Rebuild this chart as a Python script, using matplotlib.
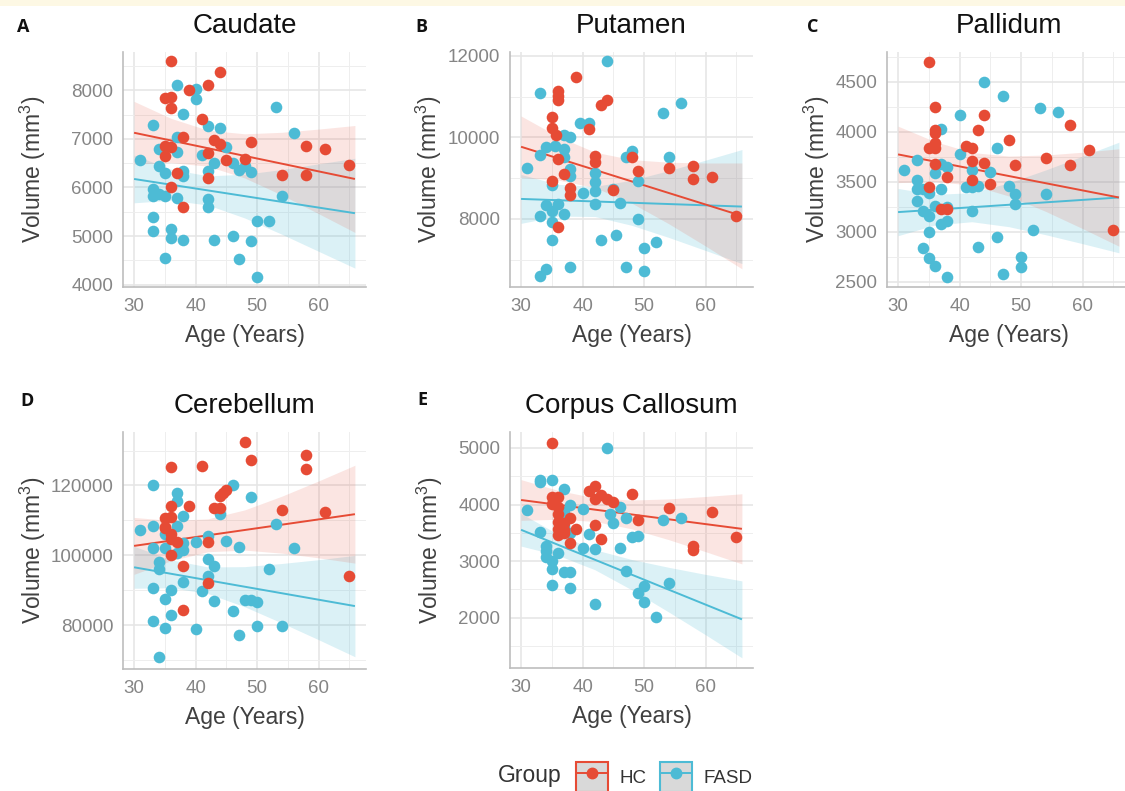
import numpy as np
import matplotlib
matplotlib.use("Agg")
import matplotlib.pyplot as plt
from matplotlib.patches import Patch, Rectangle
from matplotlib.lines import Line2D
from matplotlib.legend_handler import HandlerTuple
from matplotlib.ticker import MultipleLocator

plt.rcParams['font.family'] = ['Liberation Sans', 'DejaVu Sans']
plt.rcParams['mathtext.fontset'] = 'custom'
plt.rcParams['mathtext.rm'] = 'Liberation Sans'
plt.rcParams['mathtext.it'] = 'Liberation Sans:italic'

HC_COLOR = '#E64B35'
FASD_COLOR = '#4DBBD5'

# ---- points (age in years, volume in mm^3) ----
caudate_hc_age = [36, 44, 42, 39, 35, 36, 36, 41, 38, 43, 44, 49, 58, 61, 35, 36, 35, 42, 45, 48,
                  65, 37, 54, 58, 42, 36, 38]
caudate_hc_vol = [8595, 8375, 8115, 8010, 7845, 7855, 7625, 7410, 7040, 6975, 6890, 6925, 6850, 6785,
                  6860, 6840, 6655, 6700, 6555, 6580, 6460, 6295, 6250, 6250, 6200, 6015, 5600]
caudate_fasd_age = [37, 40, 40, 38, 53, 33, 42, 44, 56, 37, 34, 37, 41, 45, 31, 34, 35, 43, 46, 47,
                    48, 49, 38, 38, 42, 33, 33, 34, 35, 37, 42, 42, 54, 33, 50, 52, 33, 36, 36, 38,
                    43, 46, 49, 35, 47, 50]
caudate_fasd_vol = [8115, 8015, 7820, 7510, 7660, 7290, 7260, 7215, 7125, 7045, 6795, 6735, 6660, 6830,
                    6570, 6450, 6290, 6495, 6510, 6360, 6450, 6310, 6340, 6235, 6330, 5975, 5825, 5860,
                    5825, 5790, 5755, 5605, 5825, 5400, 5300, 5300, 5110, 5140, 4965, 4925, 4925, 5005,
                    4905, 4555, 4525, 4155]

putamen_hc_age = [39, 36, 36, 36, 44, 43, 35, 35, 35.6, 41, 36, 42, 42, 37, 35, 38, 38, 36, 45, 48,
                  49, 54, 58, 58, 61, 65]
putamen_hc_vol = [11490, 11145, 11020, 10915, 10930, 10785, 10490, 10240, 10060, 10195, 9470, 9550,
                  9390, 9110, 8940, 8765, 8590, 7790, 8710, 9510, 9175, 9240, 9305, 8980, 9035, 8075]
putamen_fasd_age = [44, 33, 56, 53, 39.5, 41, 34, 33, 37, 38, 35.5, 37, 37, 31, 38, 38, 42, 42, 42, 47,
                    48, 54, 49, 35, 40, 45, 34, 36, 35, 37, 33, 35, 42, 46, 49, 35, 43, 45.5, 50, 52,
                    33, 34, 38, 47, 50]
putamen_fasd_vol = [11870, 11095, 10835, 10605, 10345, 10345, 9770, 9565, 10055, 10015, 9800, 9715,
                    9525, 9240, 9215, 9060, 9135, 8915, 8695, 9525, 9675, 9525, 8940, 8835, 8645, 8745,
                    8345, 8365, 8200, 8120, 8080, 7935, 8365, 8400, 8000, 7485, 7485, 7610, 7280, 7420,
                    6590, 6775, 6815, 6815, 6725]

pallidum_hc_age = [35, 36, 36, 36, 36, 35, 36, 36, 35, 38, 37, 38, 41, 42, 42, 42, 44, 44, 43, 48,
                   49, 45, 54, 58, 58, 61, 65]
pallidum_hc_vol = [4700, 4250, 4020, 3990, 3890, 3840, 3840, 3680, 3455, 3555, 3235, 3235, 3860, 3845,
                   3710, 3520, 3690, 4175, 4025, 3920, 3670, 3485, 3745, 4075, 3670, 3825, 3020]
pallidum_fasd_age = [44, 47, 53, 56, 40, 37, 46, 40, 31, 33, 36, 37, 38, 42, 45, 33, 33, 34, 35, 37,
                     41, 42, 43, 48, 49, 54, 49, 33, 36, 38, 34, 35, 42, 38, 37, 35, 52, 34, 43, 46,
                     35, 36, 38, 47, 50, 50]
pallidum_fasd_vol = [4505, 4365, 4245, 4200, 4175, 4035, 3845, 3780, 3625, 3725, 3595, 3685, 3655, 3620,
                     3605, 3525, 3435, 3435, 3390, 3435, 3455, 3455, 3465, 3465, 3380, 3380, 3280, 3310,
                     3265, 3255, 3210, 3160, 3210, 3110, 3080, 3005, 3025, 2840, 2850, 2955, 2740, 2665,
                     2550, 2585, 2755, 2655]

cerebellum_hc_age = [48, 58, 58, 49, 36, 41, 45, 44.5, 44, 39, 36, 43, 44, 54, 61, 35, 36, 35, 35, 36,
                     36, 37, 36, 38, 42, 42, 38, 65]
cerebellum_hc_vol = [132500, 128800, 124800, 127300, 125350, 125550, 118650, 117900, 116950, 114250,
                     114100, 113600, 113600, 112950, 112350, 110750, 111000, 108200, 107700, 106000,
                     104750, 103800, 100250, 97100, 103900, 92100, 84500, 94000]
cerebellum_fasd_age = [33, 37, 37, 46, 49, 38, 44, 53, 31, 33, 37, 35, 42, 45, 47, 56, 33, 35, 38, 38,
                       37, 40, 34, 34, 42, 43, 52, 42, 38, 33, 36, 41, 35, 43, 48, 49, 50, 46, 36, 33,
                       35, 40, 50, 54, 47, 34]
cerebellum_fasd_vol = [120000, 117900, 115500, 120200, 116650, 111200, 111700, 109100, 107400, 108350,
                       108350, 106250, 105500, 104050, 102450, 102150, 102150, 102150, 103600, 101500,
                       100700, 103850, 98050, 96150, 98900, 96900, 96250, 94200, 92300, 90700,
                       90000, 89950, 87650, 86850, 87350, 87350, 86600, 84000, 83050, 81150,
                       79250, 78950, 79900, 79900, 77150, 70850]

callosum_hc_age = [35, 35, 36, 35, 36, 36, 36, 37, 36, 37, 36, 37, 38, 39, 38, 41, 42, 42, 43, 44,
                   45, 42, 43, 48, 49, 54, 61, 58, 58, 65]
callosum_hc_vol = [5095, 4125, 4125, 4005, 3960, 3840, 3695, 3665, 3575, 3545, 3460, 3490, 3755, 3575,
                   3325, 4235, 4325, 4105, 4165, 4105, 4045, 3645, 3390, 4180, 3735, 3940, 3865, 3270,
                   3195, 3430]
callosum_fasd_age = [44, 33, 33, 35, 37, 31, 38, 40, 37, 44.5, 46, 47, 45, 37, 38, 41, 33, 53, 56, 48,
                     49, 40, 42, 46, 34, 34, 34, 35, 36, 35, 37, 38, 47, 35, 38, 50, 49, 54, 50, 42, 52]
callosum_fasd_vol = [5000, 4430, 4390, 4430, 4270, 3900, 3990, 3920, 3860, 3840, 3960, 3765, 3665, 3625,
                     3490, 3475, 3520, 3725, 3765, 3430, 3440, 3235, 3205, 3235, 3270, 3180, 3075, 3000,
                     3135, 2855, 2800, 2800, 2830, 2575, 2530, 2565, 2430, 2605, 2270, 2240, 2020]

# ---- fitted lines (value at the two ends) and 95% band half-widths ----
fit_ends = [30, 65.9]
band_ages = [30, 36, 42, 48, 54, 60, 65.9]

caudate_hc_fit = [7125, 6174]
caudate_hc_hw = [645, 455, 370, 455, 645, 870, 1100]
caudate_fasd_fit = [6174, 5470]
caudate_fasd_hw = [490, 320, 300, 450, 665, 900, 1130]

putamen_hc_fit = [9771, 8073]
putamen_hc_hw = [755, 535, 435, 535, 755, 1020, 1300]
putamen_fasd_fit = [8490, 8302]
putamen_fasd_hw = [600, 390, 370, 555, 820, 1110, 1400]

pallidum_hc_fit = [3776, 3345]
pallidum_hc_hw = [282, 200, 163, 200, 282, 382, 487]
pallidum_fasd_fit = [3199, 3345]
pallidum_fasd_hw = [236, 153, 145, 219, 324, 438, 553]

cerebellum_hc_fit = [102720, 111790]
cerebellum_hc_hw = [8140, 5760, 4700, 5760, 8140, 11000, 14000]
cerebellum_fasd_fit = [96600, 85500]
cerebellum_fasd_hw = [6000, 4000, 3800, 5750, 8500, 11450, 14500]

callosum_hc_fit = [4080, 3570]
callosum_hc_hw = [360, 255, 208, 255, 360, 488, 620]
callosum_fasd_fit = [3553, 1970]
callosum_fasd_hw = [288, 187, 177, 268, 395, 534, 680]

W, H = 1125, 791
XLIM = (28.2, 67.7)

panels = [
    dict(letter='A', lpos=(17, 32), title='Caudate', box=(123, 52, 366, 287), ylim=(3952, 8786), major=1000,
         hc=(caudate_hc_age, caudate_hc_vol, caudate_hc_fit, caudate_hc_hw),
         fasd=(caudate_fasd_age, caudate_fasd_vol, caudate_fasd_fit, caudate_fasd_hw), ylab_x=-0.309),
    dict(letter='B', lpos=(415, 32), title='Putamen', box=(510, 52, 753, 287), ylim=(6327, 12098), major=2000,
         hc=(putamen_hc_age, putamen_hc_vol, putamen_hc_fit, putamen_hc_hw),
         fasd=(putamen_fasd_age, putamen_fasd_vol, putamen_fasd_fit, putamen_fasd_hw), ylab_x=-0.27),
    dict(letter='C', lpos=(807, 32), title='Pallidum', box=(887, 52, 1130, 287), ylim=(2450, 4800), major=500,
         hc=(pallidum_hc_age, pallidum_hc_vol, pallidum_hc_fit, pallidum_hc_hw),
         fasd=(pallidum_fasd_age, pallidum_fasd_vol, pallidum_fasd_fit, pallidum_fasd_hw), ylab_x=-0.226),
    dict(letter='D', lpos=(20, 406), title='Cerebellum', box=(123, 432, 366, 669), ylim=(67500, 135300), major=20000,
         hc=(cerebellum_hc_age, cerebellum_hc_vol, cerebellum_hc_fit, cerebellum_hc_hw),
         fasd=(cerebellum_fasd_age, cerebellum_fasd_vol, cerebellum_fasd_fit, cerebellum_fasd_hw), ylab_x=-0.309),
    dict(letter='E', lpos=(417, 405), title='Corpus Callosum', box=(510, 432, 753, 668), ylim=(1110, 5282), major=1000,
         hc=(callosum_hc_age, callosum_hc_vol, callosum_hc_fit, callosum_hc_hw),
         fasd=(callosum_fasd_age, callosum_fasd_vol, callosum_fasd_fit, callosum_fasd_hw), ylab_x=-0.267),
]


def draw_fit(ax, fit, hw, color, alpha):
    centre = np.interp(band_ages, fit_ends, fit)
    hw = np.asarray(hw, float)
    ax.fill_between(band_ages, centre - hw, centre + hw, color=color, alpha=alpha, lw=0, zorder=2)
    ax.plot(fit_ends, fit, color=color, lw=1.4, zorder=3, solid_capstyle='butt')


fig = plt.figure(figsize=(W / 100, H / 100), dpi=100)
fig.patches.append(Rectangle((0, 1 - 6 / H), 1, 6 / H, transform=fig.transFigure,
                             facecolor='#fdf8e4', edgecolor='none', zorder=0))

for p in panels:
    l, t, r, b = p['box']
    ax = fig.add_axes([l / W, 1 - b / H, (r - l) / W, (b - t) / H])
    ax.set_xlim(*XLIM)
    ax.set_ylim(*p['ylim'])
    ax.xaxis.set_major_locator(MultipleLocator(10))
    ax.xaxis.set_minor_locator(MultipleLocator(5))
    ax.yaxis.set_major_locator(MultipleLocator(p['major']))
    ax.yaxis.set_minor_locator(MultipleLocator(p['major'] / 2))
    ax.grid(which='major', color='#e6e6e6', lw=1.2, zorder=0)
    ax.grid(which='minor', color='#eeeeee', lw=0.7, zorder=0)
    ax.set_axisbelow(True)
    for side in ['top', 'right']:
        ax.spines[side].set_visible(False)
    for side in ['left', 'bottom']:
        ax.spines[side].set_color('#bdbdbd')
        ax.spines[side].set_linewidth(1.2)
    ax.tick_params(which='both', length=0, labelsize=13.5, labelcolor='#858585')
    ax.tick_params(axis='x', pad=8)
    ax.tick_params(axis='y', pad=7)

    hc_age, hc_vol, hc_fit, hc_hw = p['hc']
    fasd_age, fasd_vol, fasd_fit, fasd_hw = p['fasd']
    draw_fit(ax, fasd_fit, fasd_hw, FASD_COLOR, 0.2)
    draw_fit(ax, hc_fit, hc_hw, HC_COLOR, 0.14)
    ax.scatter(fasd_age, fasd_vol, s=70, color=FASD_COLOR, lw=0, zorder=4)
    ax.scatter(hc_age, hc_vol, s=70, color=HC_COLOR, lw=0, zorder=4)

    ax.set_title(p['title'], fontsize=20, pad=13.7, color='#111111')
    ax.set_xlabel('Age (Years)', fontsize=16.5, color='#404040')
    ax.set_ylabel('Volume (mm$^3$)', fontsize=16.5, color='#404040')
    ax.xaxis.set_label_coords(0.5, -37 / (b - t))
    ax.yaxis.set_label_coords(p['ylab_x'], 0.5)

    lx, ly = p['lpos']
    fig.text(lx / W, 1 - ly / H, p['letter'], fontsize=13, fontweight='bold',
             family=['Open Sans', 'DejaVu Sans'], va='baseline', ha='left', color='#111111')

fig.text(498 / W, 1 - 782 / H, 'Group', fontsize=16.5, color='#333333', va='baseline', ha='left')
handles = [
    (Patch(facecolor='#d9d9d9', edgecolor=HC_COLOR, lw=1.5),
     Line2D([], [], color=HC_COLOR, lw=1.4, marker='o', ms=7.5)),
    (Patch(facecolor='#d9d9d9', edgecolor=FASD_COLOR, lw=1.5),
     Line2D([], [], color=FASD_COLOR, lw=1.4, marker='o', ms=7.5)),
]
fig.legend(handles=handles, labels=['HC', 'FASD'], ncol=2, loc='lower left',
           bbox_to_anchor=(576 / W, -1 / H), frameon=False, fontsize=13.5,
           labelcolor='#333333', handlelength=1.7, handleheight=2.05, handletextpad=0.6,
           columnspacing=0.75, borderpad=0, borderaxespad=0,
           handler_map={tuple: HandlerTuple(ndivide=1, pad=0)})

fig.savefig('out.png', dpi=100)
